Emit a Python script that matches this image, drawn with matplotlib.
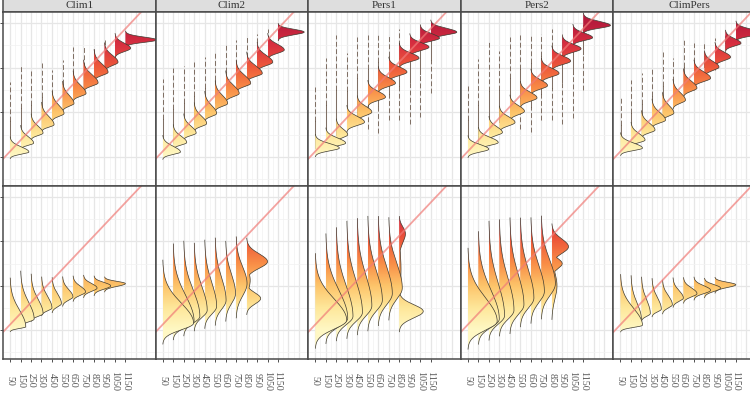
import numpy as np
import matplotlib.pyplot as plt
from matplotlib.colors import LinearSegmentedColormap, Normalize
from matplotlib.patches import Polygon

# facetas y posiciones de las crestas
modelos = ['Clim1', 'Clim2', 'Pers1', 'Pers2', 'ClimPers']
xs = [50, 150, 250, 350, 450, 550, 650, 750, 850, 950, 1050, 1150]
y_ticks = [0, 400, 800, 1200]

# cada cresta: (moda, sd_abajo, sd_arriba, altura en pasos, cola_ini, cola_fin)
clim1_top = [(45, 20, 45, 1.8, 45, 670), (125, 20, 55, 1.25, 125, 820), (215, 22, 60, 1.15, 215, 780),
             (290, 22, 70, 1.2, 290, 840), (390, 25, 70, 1.15, 390, 780), (480, 25, 70, 1.1, 480, 870),
             (570, 25, 70, 1.25, 570, 985), (665, 28, 70, 1.4, 665, 985), (760, 28, 70, 1.35, 760, 985),
             (850, 30, 60, 1.3, 850, 1045), (975, 30, 45, 1.5, 975, 1065), (1050, 22, 25, 3.0, 0, 0)]
clim2_top = [(45, 22, 50, 1.7, 45, 700), (130, 22, 55, 1.3, 130, 800), (215, 22, 60, 1.2, 215, 820),
             (300, 25, 65, 1.2, 300, 850), (390, 25, 70, 1.15, 390, 900), (480, 25, 70, 1.2, 480, 950),
             (570, 28, 70, 1.3, 570, 1000), (660, 28, 70, 1.4, 660, 1050), (750, 28, 65, 1.5, 750, 1080),
             (850, 30, 60, 1.5, 850, 1100), (960, 30, 50, 1.6, 960, 1150), (1120, 25, 25, 2.5, 0, 0)]
pers1_top = [(80, 25, 40, 2.3, 80, 627), (125, 25, 45, 1.9, 125, 886), (200, 25, 50, 1.1, 200, 1090),
             (313, 30, 50, 1.7, 313, 930), (403, 30, 50, 1.4, 300, 1074), (537, 30, 50, 1.7, 250, 1090),
             (662, 30, 50, 1.65, 215, 1090), (761, 30, 45, 1.75, 330, 1090), (886, 30, 45, 1.9, 330, 1150),
             (985, 30, 40, 1.85, 300, 985), (1065, 25, 40, 1.85, 358, 1065), (1119, 25, 35, 2.5, 573, 1119)]
pers2_top = [(70, 25, 40, 2.0, 70, 650), (130, 25, 45, 1.9, 130, 880), (220, 25, 50, 1.3, 220, 1050),
             (310, 30, 50, 1.5, 310, 950), (410, 30, 50, 1.4, 300, 1080), (530, 30, 50, 1.6, 250, 1100),
             (640, 30, 50, 1.6, 220, 1100), (750, 30, 45, 1.7, 330, 1100), (860, 30, 45, 1.8, 330, 1150),
             (970, 30, 40, 1.8, 300, 1100), (1070, 25, 40, 1.9, 350, 1120), (1180, 25, 35, 2.6, 600, 1180)]
climpers_top = [(80, 22, 45, 2.1, 80, 537), (152, 22, 55, 1.35, 152, 689), (242, 25, 60, 1.3, 242, 752),
                (331, 25, 65, 1.3, 331, 806), (394, 25, 65, 1.1, 394, 940), (510, 28, 65, 1.2, 510, 886),
                (618, 28, 60, 1.3, 618, 1047), (707, 30, 55, 1.6, 600, 1020), (806, 30, 50, 1.4, 806, 1020),
                (895, 30, 45, 1.5, 779, 1070), (1020, 25, 40, 1.5, 900, 1090), (1110, 25, 35, 2.5, 0, 0)]

clim1_bot = [(30, 15, 150, 1.5, 0, 0), (100, 25, 150, 1.3, 0, 0), (150, 25, 125, 1.15, 0, 0),
             (200, 25, 100, 1.0, 0, 0), (240, 30, 85, 0.9, 0, 0), (300, 30, 65, 1.0, 0, 0),
             (345, 30, 50, 1.2, 0, 0), (380, 30, 40, 1.3, 0, 0), (400, 30, 30, 1.6, 0, 0),
             (420, 25, 20, 2.0, 0, 0)]
clim2_bot = [(63, 60, 180, 2.95, 0, 0), (80, 55, 230, 2.0, 0, 0), (125, 60, 230, 1.55, 0, 0),
             (180, 65, 210, 1.25, 0, 0), (215, 70, 210, 1.15, 0, 0), (269, 80, 200, 1.05, 0, 0),
             (330, 90, 170, 0.95, 0, 0), (420, 110, 150, 1.05, 0, 0), (286, 50, 50, 1.35, 0, 0)]
pers1_bot = [(90, 80, 190, 3.0, 0, 0), (107, 75, 250, 2.1, 0, 0), (125, 75, 270, 1.6, 0, 0),
             (160, 80, 280, 1.5, 0, 0), (220, 90, 270, 1.4, 0, 0), (270, 95, 260, 1.4, 0, 0),
             (330, 100, 240, 1.35, 0, 0), (380, 100, 220, 1.3, 0, 0), (170, 60, 60, 2.3, 0, 0)]
pers2_bot = [(80, 80, 210, 2.8, 0, 0), (100, 75, 260, 2.0, 0, 0), (130, 75, 290, 1.5, 0, 0),
             (180, 80, 280, 1.4, 0, 0), (230, 90, 270, 1.35, 0, 0), (290, 90, 250, 1.3, 0, 0),
             (350, 100, 230, 1.3, 0, 0), (420, 110, 210, 1.35, 0, 0), (400, 120, 120, 0.5, 0, 0)]
climpers_bot = [(45, 20, 150, 2.1, 0, 0), (100, 20, 140, 1.0, 0, 0), (150, 25, 120, 0.85, 0, 0),
                (190, 25, 100, 0.9, 0, 0), (230, 30, 80, 0.95, 0, 0), (290, 30, 65, 1.0, 0, 0),
                (330, 30, 50, 1.3, 0, 0), (360, 30, 40, 1.6, 0, 0), (380, 30, 30, 1.55, 0, 0),
                (410, 25, 22, 2.0, 0, 0)]

# jorobas adicionales (modelo, fila, x, moda, sd_abajo, sd_arriba, altura)
extras = [('Clim2', 1, 850, 618, 60, 70, 2.0), ('Clim2', 1, 850, 450, 80, 80, 0.35),
          ('Pers1', 1, 850, 870, 80, 60, 0.6), ('Pers1', 1, 850, 550, 200, 150, 0.18),
          ('Pers2', 1, 850, 752, 60, 70, 1.6), ('Pers2', 1, 850, 600, 45, 45, 1.0)]

datos = {('Clim1', 0): clim1_top, ('Clim2', 0): clim2_top, ('Pers1', 0): pers1_top,
         ('Pers2', 0): pers2_top, ('ClimPers', 0): climpers_top,
         ('Clim1', 1): clim1_bot, ('Clim2', 1): clim2_bot, ('Pers1', 1): pers1_bot,
         ('Pers2', 1): pers2_bot, ('ClimPers', 1): climpers_bot}

# estilo
cmap = LinearSegmentedColormap.from_list('ylorrd', [(0, '#FFF8C4'), (1/6, '#FEE79A'), (2/6, '#FDC46A'),
                                                    (3/6, '#F98E47'), (4/6, '#EE5A3A'), (5/6, '#D93040'),
                                                    (1, '#B81C3C')])
norm = Normalize(0, 1200)
borde = '#4a4a4a'
contorno = '#3e3a30'
serif = 'Liberation Serif'
W, H = 750, 397
xlim = (-17, 1438)
ylim = (-260, 1300)
yy = np.linspace(-300, 1350, 1400)


def split_normal(y, mu, lo, hi, h):
    s = np.where(y < mu, lo, hi)
    return h * np.exp(-0.5 * ((y - mu) / s) ** 2)


def densidad(x0, cresta, modelo, fila):
    mu, lo, hi, h = cresta[:4]
    d = split_normal(yy, mu, lo, hi, h)
    for m, f, xe, mu2, lo2, hi2, h2 in extras:
        if m == modelo and f == fila and xe == x0:
            d = np.maximum(d, split_normal(yy, mu2, lo2, hi2, h2))
    return d


def px_axes(l, t, w, h):
    return fig.add_axes([l / W, 1 - (t + h) / H, w / W, h / H])


fig = plt.figure(figsize=(7.5, 3.97), dpi=100)
ancho = 152.6
filas = [(12, 174), (186, 173)]

for k, modelo in enumerate(modelos):
    left = 3 + ancho * k
    # tira con el nombre
    st = px_axes(left, -3, ancho, 15)
    st.set_facecolor('#DEDEDE')
    st.set_xticks([])
    st.set_yticks([])
    for s in st.spines.values():
        s.set_color(borde)
        s.set_linewidth(1.1)
    st.text(0.5, 0.4, modelo, transform=st.transAxes, ha='center', va='center',
            fontsize=8, family=serif, color='#333333')

    for fila, (top, alto) in enumerate(filas):
        ax = px_axes(left, top, ancho, alto)
        ax.set_facecolor('white')
        for g in range(50, 1400, 100):
            ax.axvline(g, color='#E6E6E6', lw=0.9, zorder=0)
        for g in range(100, 1400, 100):
            ax.axvline(g, color='#F2F2F2', lw=0.5, zorder=0)
        for g in y_ticks:
            ax.axhline(g, color='#E6E6E6', lw=0.9, zorder=0)
        for g in [-200, 200, 600, 1000]:
            ax.axhline(g, color='#F2F2F2', lw=0.5, zorder=0)

        crestas = datos[(modelo, fila)]
        n = len(crestas)
        for i in range(n - 1, -1, -1):
            x0 = xs[i]
            mu = crestas[i][0]
            t0, t1 = crestas[i][4:]
            z = 10 + (n - i)
            # cola fina: continua cerca de la moda, discontinua lejos
            if t1 > t0:
                for a, b in [(t0, mu), (mu, t1)]:
                    if b - a < 5:
                        continue
                    cerca = a + 0.45 * (b - a) if a == mu else b - 0.45 * (b - a)
                    if a == mu:
                        partes = [(a, cerca, None), (cerca, b, (5, 2.5))]
                    else:
                        partes = [(cerca, b, None), (a, cerca, (5, 2.5))]
                    for p0, p1, dsh in partes:
                        kw = {'dashes': dsh} if dsh else {}
                        ax.plot([x0 + 1.5, x0 + 1.5], [p0, p1], color='#5a4535', lw=0.7,
                                alpha=0.75, zorder=z - 0.2, **kw)
            d = densidad(x0, crestas[i], modelo, fila)
            mask = d > 0.02
            idx = np.flatnonzero(np.diff(np.r_[0, mask.astype(int), 0]))
            for a, b in zip(idx[::2], idx[1::2]):
                ys = yy[a:b]
                xx = x0 + d[a:b] * 100
                verts = [(x0, ys[0])] + list(zip(xx, ys)) + [(x0, ys[-1])]
                poly = Polygon(verts, closed=True, facecolor='none', edgecolor='none')
                ax.add_patch(poly)
                grad = np.linspace(ys[0], ys[-1], 200)[:, None]
                im = ax.imshow(grad, extent=[x0, xx.max() + 1, ys[0], ys[-1]], origin='lower',
                               cmap=cmap, norm=norm, aspect='auto', zorder=z, interpolation='bilinear')
                im.set_clip_path(poly)
                ax.plot(xx, ys, color=contorno, lw=0.5, zorder=z + 0.5)

        ax.plot(xlim, xlim, color='#F07C78', lw=1.3, alpha=0.7, zorder=40)
        ax.set_xlim(xlim)
        ax.set_ylim(ylim)
        for s in ax.spines.values():
            s.set_color(borde)
            s.set_linewidth(1.1)
            s.set_zorder(50)

        if k == 0:
            ax.set_yticks(y_ticks)
            ax.set_yticklabels([''] * len(y_ticks))
            ax.tick_params(axis='y', length=2.2, width=0.6, color='#333333')
        else:
            ax.set_yticks([])
        if fila == 1:
            ax.set_xticks(xs)
            ax.set_xticklabels([str(v) for v in xs], rotation=-90, va='center',
                               fontsize=7.2, family=serif, color='#555555')
            ax.tick_params(axis='x', length=2.2, width=0.6, color='#333333', pad=13.3)
        else:
            ax.set_xticks([])

fig.savefig('out.png', dpi=100)
